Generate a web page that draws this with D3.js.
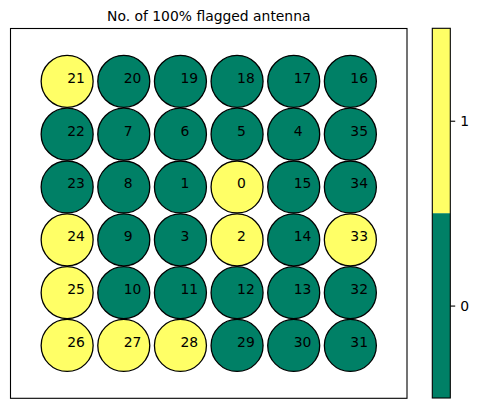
<!DOCTYPE html>
<html><head><meta charset="utf-8">
<script src="https://cdn.jsdelivr.net/npm/d3@7"></script>
<style>body{margin:0;background:#fff}svg{display:block}text{font-family:"DejaVu Sans",sans-serif}</style>
</head><body><svg id="c" width="478" height="408"></svg>
<script>
// Antenna numbers laid out row by row (top to bottom)
const antennaRows = [
  [21,20,19,18,17,16],
  [22,7,6,5,4,35],
  [23,8,1,0,15,34],
  [24,9,3,2,14,33],
  [25,10,11,12,13,32],
  [26,27,28,29,30,31]
];
// Flag value (1 = 100% flagged) for each antenna, same layout
const flagRows = [
  [1,0,0,0,0,0],
  [0,0,0,0,0,0],
  [0,0,0,1,0,0],
  [1,0,0,1,0,1],
  [1,0,0,0,0,0],
  [1,1,1,0,0,0]
];
const colorbarValues = [0, 1];
const colorbarTicks = [0, 1];
const title = "No. of 100% flagged antenna";

const svg = d3.select("#c");
const L = 10.5, R = 407, T = 28.5, B = 398.3;
const x = d3.scaleLinear().domain([-1, 6]).range([L, R]);
const y = d3.scaleLinear().domain([-1, 6]).range([T, B]);
const color = d3.scaleOrdinal().domain([0, 1]).range(["#008066", "#ffff66"]);

const pts = [];
antennaRows.forEach((row, r) => row.forEach((a, c) => pts.push({ant: a, flag: flagRows[r][c], r, c})));

svg.append("rect").attr("x", L).attr("y", T).attr("width", R - L).attr("height", B - T)
  .attr("fill", "none").attr("stroke", "#000").attr("stroke-width", 1.1);

const g = svg.append("g");
g.selectAll("circle").data(pts).join("circle")
  .attr("cx", d => x(d.c)).attr("cy", d => y(d.r)).attr("r", 26)
  .attr("fill", d => color(d.flag)).attr("stroke", "#000").attr("stroke-width", 1.3);
g.selectAll("text").data(pts).join("text")
  .attr("x", d => x(d.c)).attr("y", d => y(d.r) + 1.5)
  .attr("font-size", "13.9px").attr("fill", "#000").text(d => d.ant);

svg.append("text").attr("x", (L + R) / 2).attr("y", 21).attr("text-anchor", "middle")
  .attr("font-size", "13.9px").text(title);

// Colorbar
const cbL = 432.3, cbW = 18;
const cy = d3.scaleLinear().domain([-0.5, 1.5]).range([398, 28.3]);
svg.selectAll("rect.cb").data(colorbarValues).join("rect").attr("class", "cb")
  .attr("x", cbL).attr("width", cbW)
  .attr("y", d => cy(d + 0.5)).attr("height", d => cy(d - 0.5) - cy(d + 0.5))
  .attr("fill", d => color(d));
svg.append("rect").attr("x", cbL).attr("y", cy(1.5)).attr("width", cbW).attr("height", cy(-0.5) - cy(1.5))
  .attr("fill", "none").attr("stroke", "#000").attr("stroke-width", 1.1);
const axis = d3.axisRight(cy).tickValues(colorbarTicks).tickSize(4.9).tickPadding(5).tickFormat(d3.format("d"));
const ag = svg.append("g").attr("transform", `translate(${cbL + cbW},0)`).call(axis);
ag.select(".domain").remove();
ag.selectAll("text").attr("font-size", "13.9px").attr("font-family", "DejaVu Sans");
ag.selectAll("line").attr("stroke-width", 1.1);
</script></body></html>
